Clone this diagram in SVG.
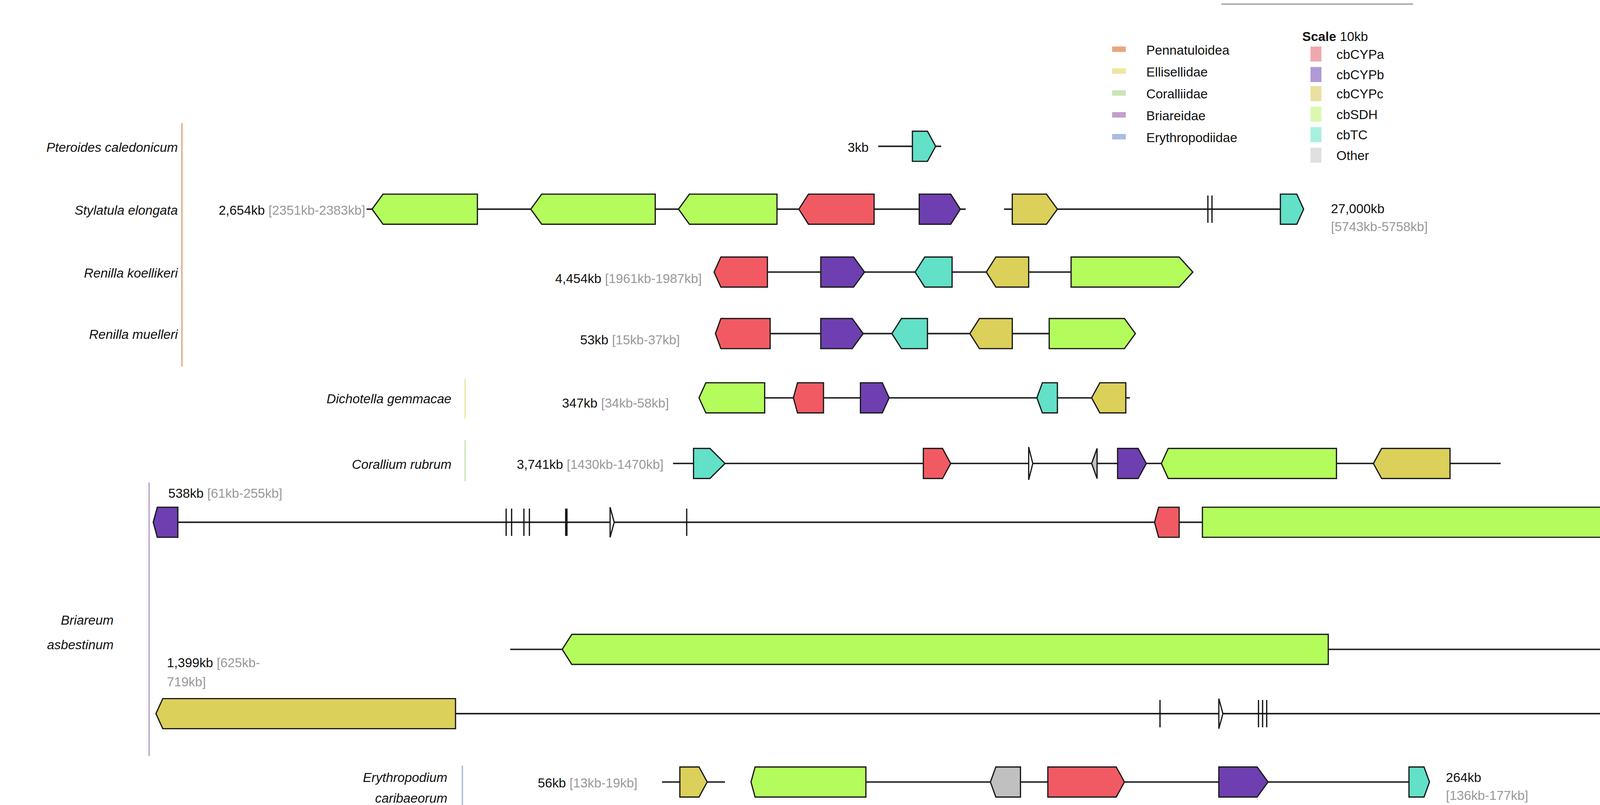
<svg xmlns="http://www.w3.org/2000/svg" width="5491" height="2062" viewBox="0 0 5491 2062">
<style>
text{font-family:"Liberation Sans",Arial,sans-serif;font-size:9.5px;fill:#111}
.sp{font-style:italic}
.g{fill:#999}
.ln{stroke:#222;stroke-width:1.1;fill:none}
.tk{stroke:#111;stroke-width:0.9;fill:none}
polygon{stroke:#1a1a1a;stroke-width:0.9;stroke-linejoin:miter}
.r{fill:#f25a63}.p{fill:#6e3fb0}.y{fill:#dbd05a}.gr{fill:#b4fc5c}.c{fill:#62e0c8}.o{fill:#c0c0c0}.w{fill:#fff}
</style>
<rect width="5491" height="2062" fill="#fff"/>
<g transform="scale(3.5019)">
<g id="legend">
<line x1="893" y1="3" x2="1033" y2="3" stroke="#aaa" stroke-width="1.2"/>
<text x="952" y="30"><tspan font-weight="bold">Scale</tspan> 10kb</text>
<rect x="813" y="34" width="10" height="4" fill="#e8a77c"/><text x="838" y="40">Pennatuloidea</text>
<rect x="813" y="50" width="10" height="4" fill="#f0e6a0"/><text x="838" y="56">Ellisellidae</text>
<rect x="813" y="66" width="10" height="4" fill="#c9e6b5"/><text x="838" y="72">Coralliidae</text>
<rect x="813" y="82" width="10" height="4" fill="#c0a0cc"/><text x="838" y="88">Briareidae</text>
<rect x="813" y="98" width="10" height="4" fill="#a9bde0"/><text x="838" y="104">Erythropodiidae</text>
<rect x="958" y="34" width="8" height="11" fill="#f0a8b0"/><text x="977" y="43">cbCYPa</text>
<rect x="958" y="49" width="8" height="11" fill="#b09ad8"/><text x="977" y="58">cbCYPb</text>
<rect x="958" y="63" width="8" height="11" fill="#ebe0a0"/><text x="977" y="72">cbCYPc</text>
<rect x="958" y="78" width="8" height="11" fill="#dcf8b0"/><text x="977" y="87">cbSDH</text>
<rect x="958" y="93" width="8" height="11" fill="#a8f0e0"/><text x="977" y="102">cbTC</text>
<rect x="958" y="108" width="8" height="11" fill="#e0e0e0"/><text x="977" y="117">Other</text>
</g>
<g id="bars">
<line x1="133" y1="90" x2="133" y2="268" stroke="#e8a77c" stroke-width="1"/>
<line x1="340" y1="277" x2="340" y2="306" stroke="#f0e6a0" stroke-width="1"/>
<line x1="340" y1="322" x2="340" y2="352" stroke="#c9e6b5" stroke-width="1"/>
<line x1="109" y1="353" x2="109" y2="553" stroke="#c0a0cc" stroke-width="1"/>
<line x1="338" y1="560" x2="338" y2="589" stroke="#a9bde0" stroke-width="1"/>
</g>
<g id="connectors">
<line class="ln" x1="642" y1="107" x2="688" y2="107"/>
<line class="ln" x1="268" y1="153" x2="706" y2="153"/>
<line class="ln" x1="734" y1="153" x2="950" y2="153"/>
<line class="ln" x1="522" y1="199" x2="872" y2="199"/>
<line class="ln" x1="523" y1="244" x2="830" y2="244"/>
<line class="ln" x1="511" y1="291" x2="826" y2="291"/>
<line class="ln" x1="492" y1="339" x2="1097" y2="339"/>
<line class="ln" x1="112" y1="382" x2="1478" y2="382"/>
<path d="M1478,382 A49,46.5 0 0 1 1478,475" fill="none" stroke="#222" stroke-width="1" stroke-dasharray="2,1.5"/>
<line class="ln" x1="373" y1="475" x2="1478" y2="475"/>
<line class="ln" x1="114" y1="522" x2="1380" y2="522"/>
<line class="ln" x1="484" y1="572" x2="530" y2="572"/>
<line class="ln" x1="633" y1="572" x2="1043" y2="572"/>
</g>
<g id="pteroides">
<text class="sp" x="130" y="111" text-anchor="end">Pteroides caledonicum</text>
<text x="635" y="111" text-anchor="end">3kb</text>
<polygon class="c" points="667,96 678,96 684,107 678,118 667,118"/>
</g>
<g id="stylatula">
<text class="sp" x="130" y="157" text-anchor="end">Stylatula elongata</text>
<text x="267" y="157" text-anchor="end">2,654kb <tspan class="g">[2351kb-2383kb]</tspan></text>
<polygon class="gr" points="272,153 280,142 349,142 349,164 280,164"/>
<polygon class="gr" points="388,153 396,142 479,142 479,164 396,164"/>
<polygon class="gr" points="496,153 504,142 568,142 568,164 504,164"/>
<polygon class="r" points="584,153 591,142 639,142 639,164 591,164"/>
<polygon class="p" points="672,142 695,142 702,153 695,164 672,164"/>
<polygon class="y" points="740,142 765,142 773,153 765,164 740,164"/>
<line class="tk" x1="883" y1="143" x2="883" y2="163"/><line class="tk" x1="886" y1="143" x2="886" y2="163"/>
<polygon class="c" points="936,142 948,142 953,153 948,164 936,164"/>
<text x="973" y="156">27,000kb</text>
<text class="g" x="973" y="169">[5743kb-5758kb]</text>
</g>
<g id="koellikeri">
<text class="sp" x="130" y="203" text-anchor="end">Renilla koellikeri</text>
<text x="513" y="207" text-anchor="end">4,454kb <tspan class="g">[1961kb-1987kb]</tspan></text>
<polygon class="r" points="522,199 527,188 561,188 561,210 527,210"/>
<polygon class="p" points="600,188 624,188 632,199 624,210 600,210"/>
<polygon class="c" points="669,199 676,188 696,188 696,210 676,210"/>
<polygon class="y" points="721,199 728,188 752,188 752,210 728,210"/>
<polygon class="gr" points="783,188 862,188 872,199 862,210 783,210"/>
</g>
<g id="muelleri">
<text class="sp" x="130" y="248" text-anchor="end">Renilla muelleri</text>
<text x="497" y="252" text-anchor="end">53kb <tspan class="g">[15kb-37kb]</tspan></text>
<polygon class="r" points="523,244 527,233 563,233 563,255 527,255"/>
<polygon class="p" points="600,233 623,233 631,244 623,255 600,255"/>
<polygon class="c" points="652,244 659,233 678,233 678,255 659,255"/>
<polygon class="y" points="709,244 716,233 740,233 740,255 716,255"/>
<polygon class="gr" points="767,233 822,233 830,244 822,255 767,255"/>
</g>
<g id="dichotella">
<text class="sp" x="330" y="295" text-anchor="end">Dichotella gemmacae</text>
<text x="489" y="298" text-anchor="end">347kb <tspan class="g">[34kb-58kb]</tspan></text>
<polygon class="gr" points="511,291 516,280 559,280 559,302 516,302"/>
<polygon class="r" points="580,291 583,280 602,280 602,302 583,302"/>
<polygon class="p" points="629,280 645,280 650,291 645,302 629,302"/>
<polygon class="c" points="758,291 762,280 773,280 773,302 762,302"/>
<polygon class="y" points="798,291 804,280 823,280 823,302 804,302"/>
</g>
<g id="corallium">
<text class="sp" x="330" y="343" text-anchor="end">Corallium rubrum</text>
<text x="485" y="343" text-anchor="end">3,741kb <tspan class="g">[1430kb-1470kb]</tspan></text>
<polygon class="c" points="507,328 519,328 530,339 519,350 507,350"/>
<polygon class="r" points="675,328 689,328 695,339 689,350 675,350"/>
<polygon class="w" points="752,327 755,339 752,351"/>
<polygon class="o" points="802,328 798,339 802,350"/>
<polygon class="p" points="817,328 832,328 838,339 832,350 817,350"/>
<polygon class="gr" points="849,339 854,328 977,328 977,350 854,350"/>
<polygon class="y" points="1004,339 1010,328 1060,328 1060,350 1010,350"/>
</g>
<g id="briareum">
<text class="sp" x="83" y="457" text-anchor="end">Briareum</text>
<text class="sp" x="83" y="475" text-anchor="end">asbestinum</text>
<text x="123" y="364">538kb <tspan class="g">[61kb-255kb]</tspan></text>
<polygon class="p" points="112,382 115,371 130,371 130,393 115,393"/>
<line class="tk" x1="370" y1="372" x2="370" y2="392"/><line class="tk" x1="374" y1="372" x2="374" y2="392"/>
<line class="tk" x1="383" y1="372" x2="383" y2="392"/><line class="tk" x1="387" y1="372" x2="387" y2="392"/>
<line x1="414" y1="372" x2="414" y2="392" stroke="#111" stroke-width="1.8"/>
<polygon class="w" points="446,371 449,382 446,393"/>
<line class="tk" x1="502" y1="372" x2="502" y2="392"/>
<polygon class="r" points="844,382 847,371 862,371 862,393 847,393"/>
<polygon class="gr" points="879,371 1436,371 1441,382 1436,393 879,393"/>
<polygon class="gr" points="411,475 418,464 971,464 971,486 418,486"/>
<line class="tk" x1="1382" y1="465" x2="1382" y2="485"/>
<line class="tk" x1="1418" y1="465" x2="1418" y2="485"/><line class="tk" x1="1421" y1="465" x2="1421" y2="485"/>
<line class="tk" x1="1424" y1="465" x2="1424" y2="485"/><line class="tk" x1="1427" y1="465" x2="1427" y2="485"/>
<line class="tk" x1="1433" y1="465" x2="1433" y2="485"/>
<text x="122" y="488">1,399kb <tspan class="g">[625kb-</tspan></text>
<text class="g" x="122" y="502">719kb]</text>
<polygon class="y" points="114,522 119,511 333,511 333,533 119,533"/>
<line class="tk" x1="848" y1="512" x2="848" y2="532"/>
<polygon class="w" points="891,511 894,522 891,533"/>
<line class="tk" x1="920" y1="512" x2="920" y2="532"/><line class="tk" x1="923" y1="512" x2="923" y2="532"/><line class="tk" x1="926" y1="512" x2="926" y2="532"/>
<polygon class="c" points="1378,511 1394,511 1402,522 1394,533 1378,533"/>
</g>
<g id="erythropodium">
<text class="sp" x="327" y="572" text-anchor="end">Erythropodium</text>
<text class="sp" x="327" y="587" text-anchor="end">caribaeorum</text>
<text x="466" y="576" text-anchor="end">56kb <tspan class="g">[13kb-19kb]</tspan></text>
<polygon class="y" points="497,561 511,561 517,572 511,583 497,583"/>
<polygon class="gr" points="549,572 552,561 633,561 633,583 552,583"/>
<polygon class="o" points="724,572 728,561 746,561 746,583 728,583"/>
<polygon class="r" points="766,561 816,561 822,572 816,583 766,583"/>
<polygon class="p" points="891,561 919,561 927,572 919,583 891,583"/>
<polygon class="c" points="1030,561 1041,561 1045,572 1041,583 1030,583"/>
<text x="1057" y="572">264kb</text>
<text class="g" x="1057" y="585">[136kb-177kb]</text>
</g>
</g>
</svg>
